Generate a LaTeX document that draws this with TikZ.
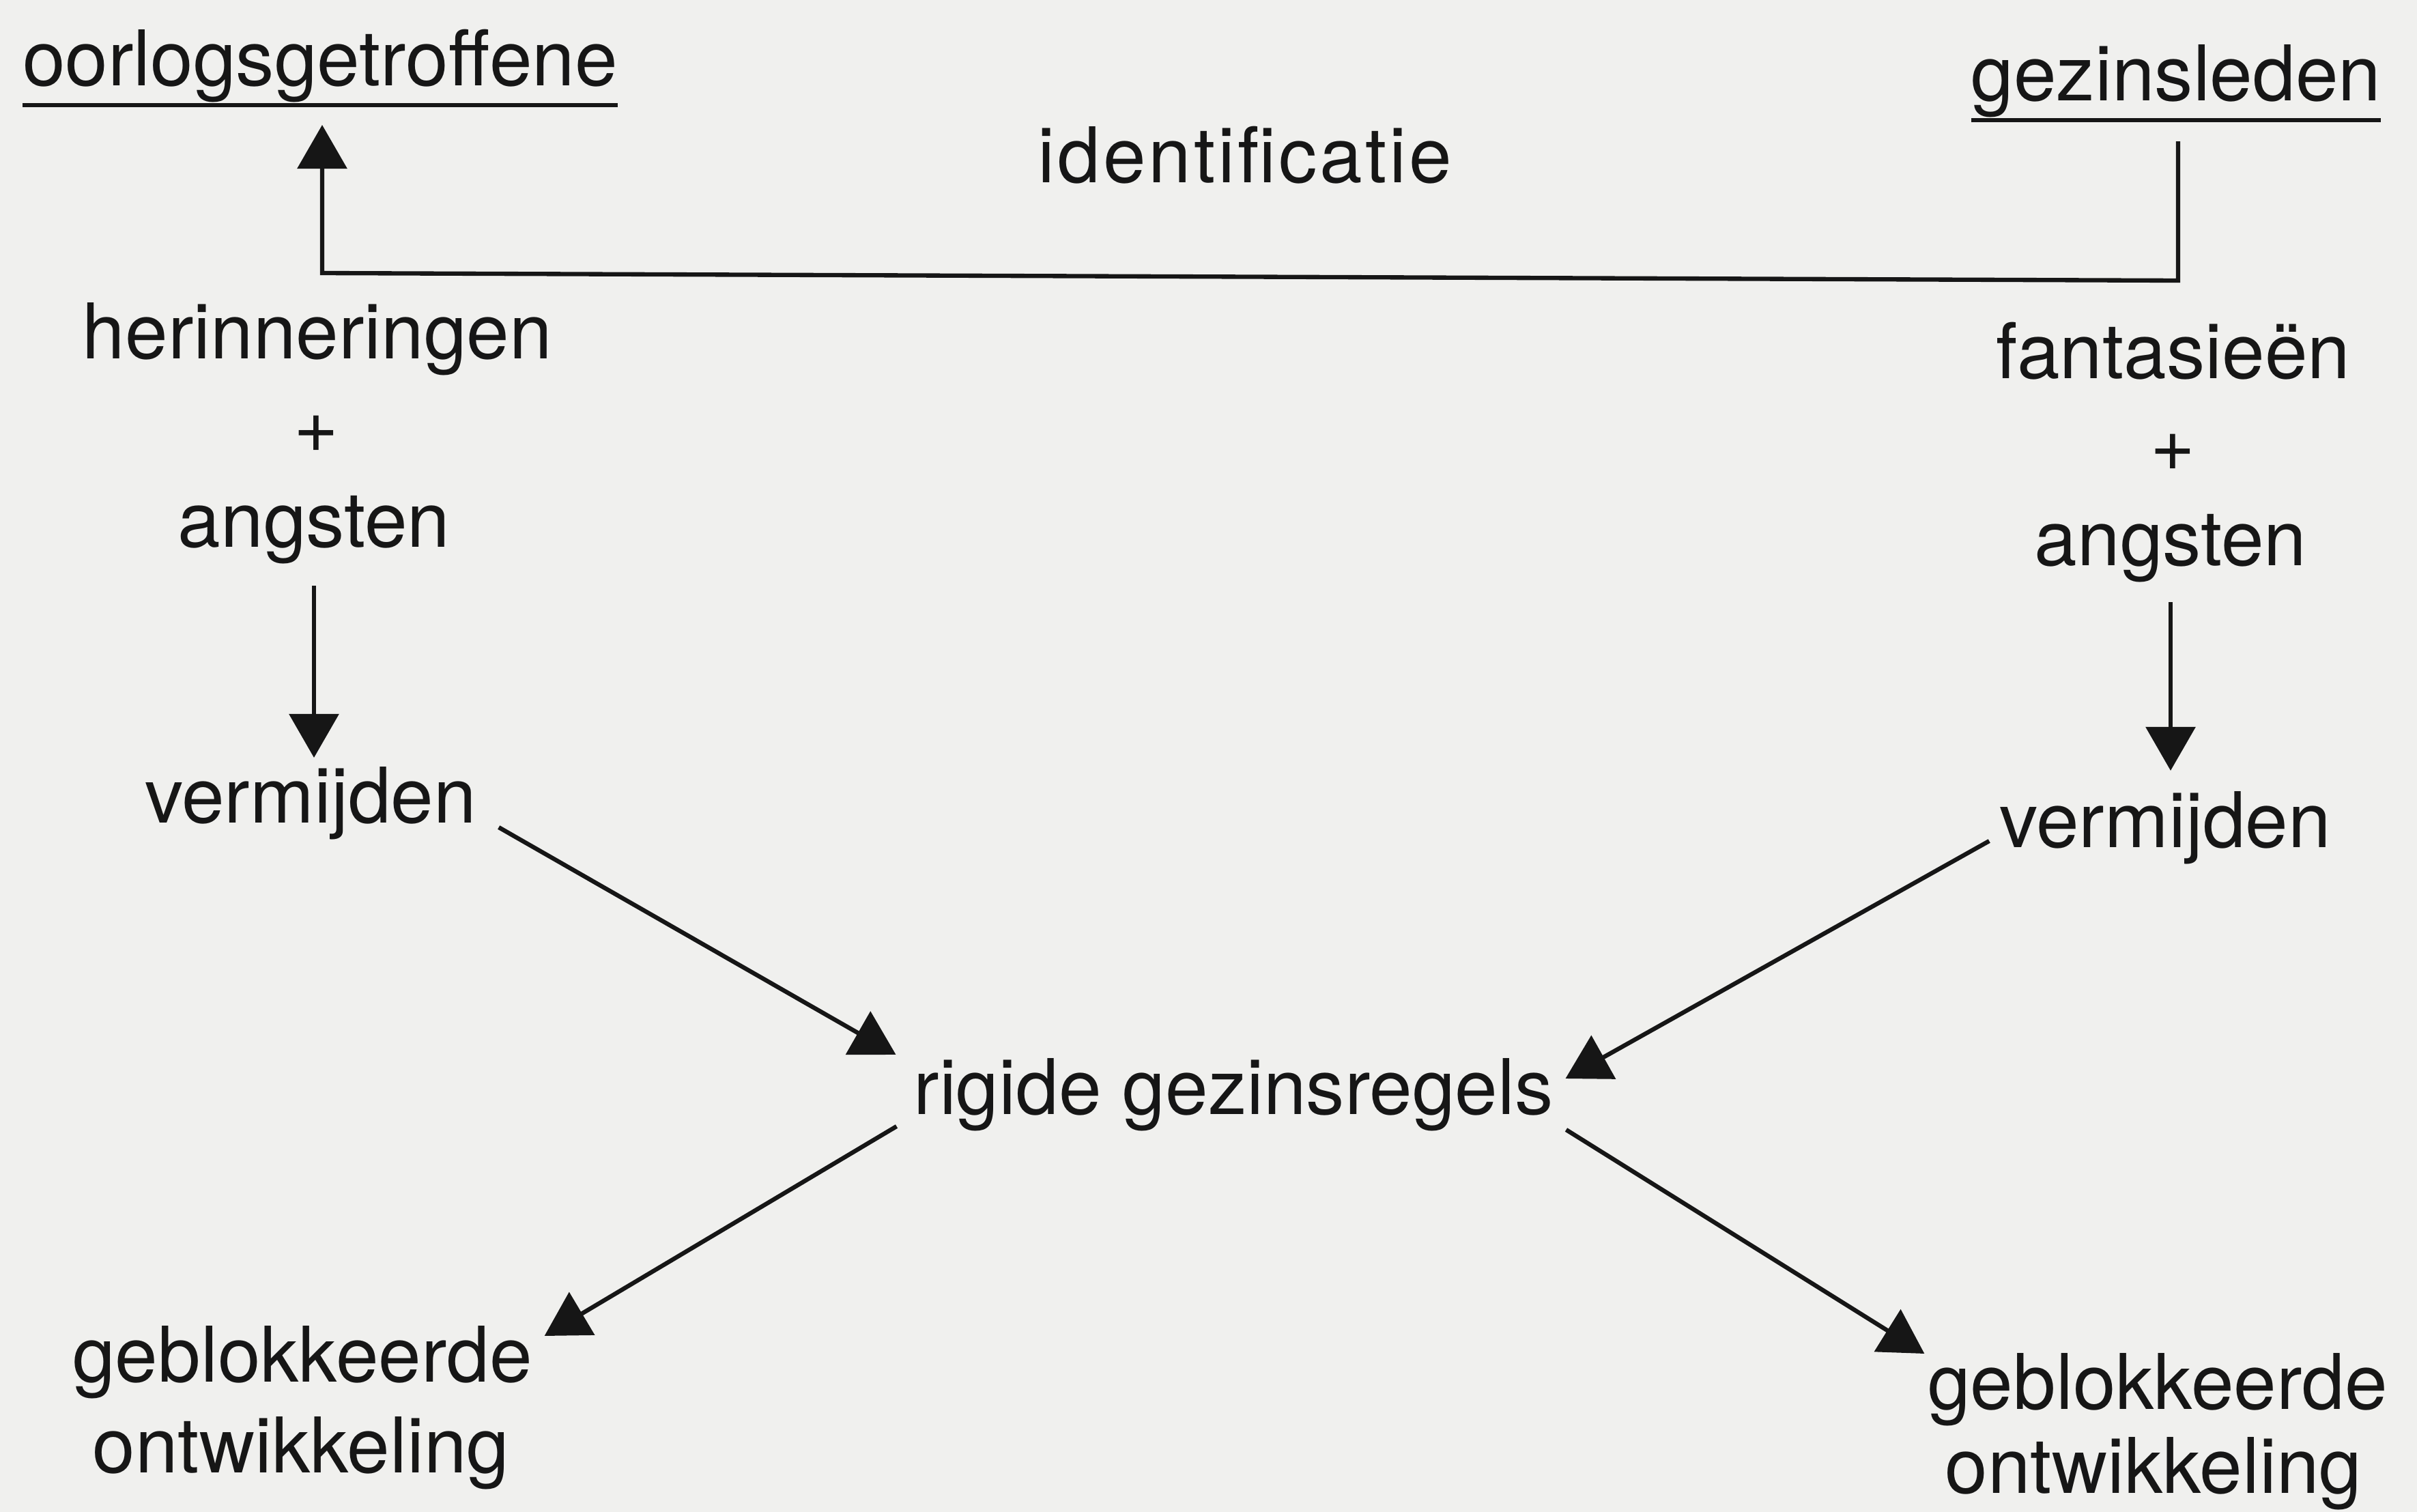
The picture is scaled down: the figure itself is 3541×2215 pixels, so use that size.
\documentclass[tikz,border=0pt]{standalone}
\usepackage{fontspec}
\setmainfont{TeX Gyre Heros}
\newfontfamily\spacedfont[LetterSpace=3.5]{TeX Gyre Heros}
\usetikzlibrary{arrows.meta,calc}
\definecolor{paper}{RGB}{240,240,238}
\definecolor{ink}{RGB}{22,22,22}
\begin{document}
\begin{tikzpicture}[x=0.01cm, y=-0.01cm,
  lbl/.style={inner sep=0pt, outer sep=0pt, anchor=base, text=ink,
    font=\fontsize{32}{38}\selectfont, text height=0.8cm, text depth=0.24cm},
  conn/.style={draw=ink, line width=1.8pt, line join=miter,
    -{Triangle[length=0.64cm,width=0.72cm]}},
  rulebar/.style={draw=ink, line width=1.7pt}]
\fill[paper] (0,0) rectangle (3541,2215);
\useasboundingbox (0,0) rectangle (3541,2215);

% top row
\node[lbl] (oor) at (469,125) {oorlogsgetroffene};
\node[lbl] (gez) at (3188,147) {gezinsleden};
\node[lbl, font=\fontsize{32}{38}\spacedfont] (ident) at (1824,267) {identificatie};
\draw[rulebar] ($(oor.base west)+(0,29)$) -- ($(oor.base east)+(0,29)$);
\draw[rulebar] ($(gez.base west)+(0,29)$) -- ($(gez.base east)+(0,29)$);

% left column
\node[lbl] (herL) at (465,525) {herinneringen};
\node[lbl] (plusL) at (463,662) {+};
\node[lbl] (angL) at (460,801) {angsten};
\node[lbl] (vermL) at (455,1205) {vermijden};

% right column
\node[lbl] (fanR) at (3184,554) {fantasieën};
\node[lbl] (plusR) at (3183,689) {+};
\node[lbl] (angR) at (3180,828) {angsten};
\node[lbl] (vermR) at (3172,1241) {vermijden};

% centre and bottom
\node[lbl] (rig) at (1807,1632) {rigide gezinsregels};
\node[lbl] (gebL) at (443,2024) {geblokkeerde};
\node[lbl] (ontL) at (441,2157) {ontwikkeling};
\node[lbl] (gebR) at (3161,2064) {geblokkeerde};
\node[lbl] (ontR) at (3155,2187) {ontwikkeling};

% identification connector
\coordinate (cR) at (3191,411);
\coordinate (cL) at (472,400);
\draw[conn] ($(gez.base)+(3,60)$) -- (cR) -- (cL) -- ($(oor.base)+(3,58)$);

% vertical arrows
\draw[conn, shorten <=0.33cm, shorten >=0.15cm] (angL.south) -- (angL.south |- vermL.north);
\draw[conn, shorten <=0.30cm, shorten >=0.32cm] (angR.south) -- (angR.south |- vermR.north);

% diagonal arrows
\draw[conn] ($(vermL.base east)+(33,7)$) -- ($(rig.base west)+(-26,-87)$);
\draw[conn] ($(vermR.base west)+(-15,-9)$) -- ($(rig.base east)+(18,-52)$);
\draw[conn] ($(rig.base west)+(-25,18)$) -- ($(gebL.base east)+(18,-67)$);
\draw[conn] ($(rig.base east)+(19,23)$) -- ($(gebR.base west)+(-5,-81)$);
\end{tikzpicture}
\end{document}
